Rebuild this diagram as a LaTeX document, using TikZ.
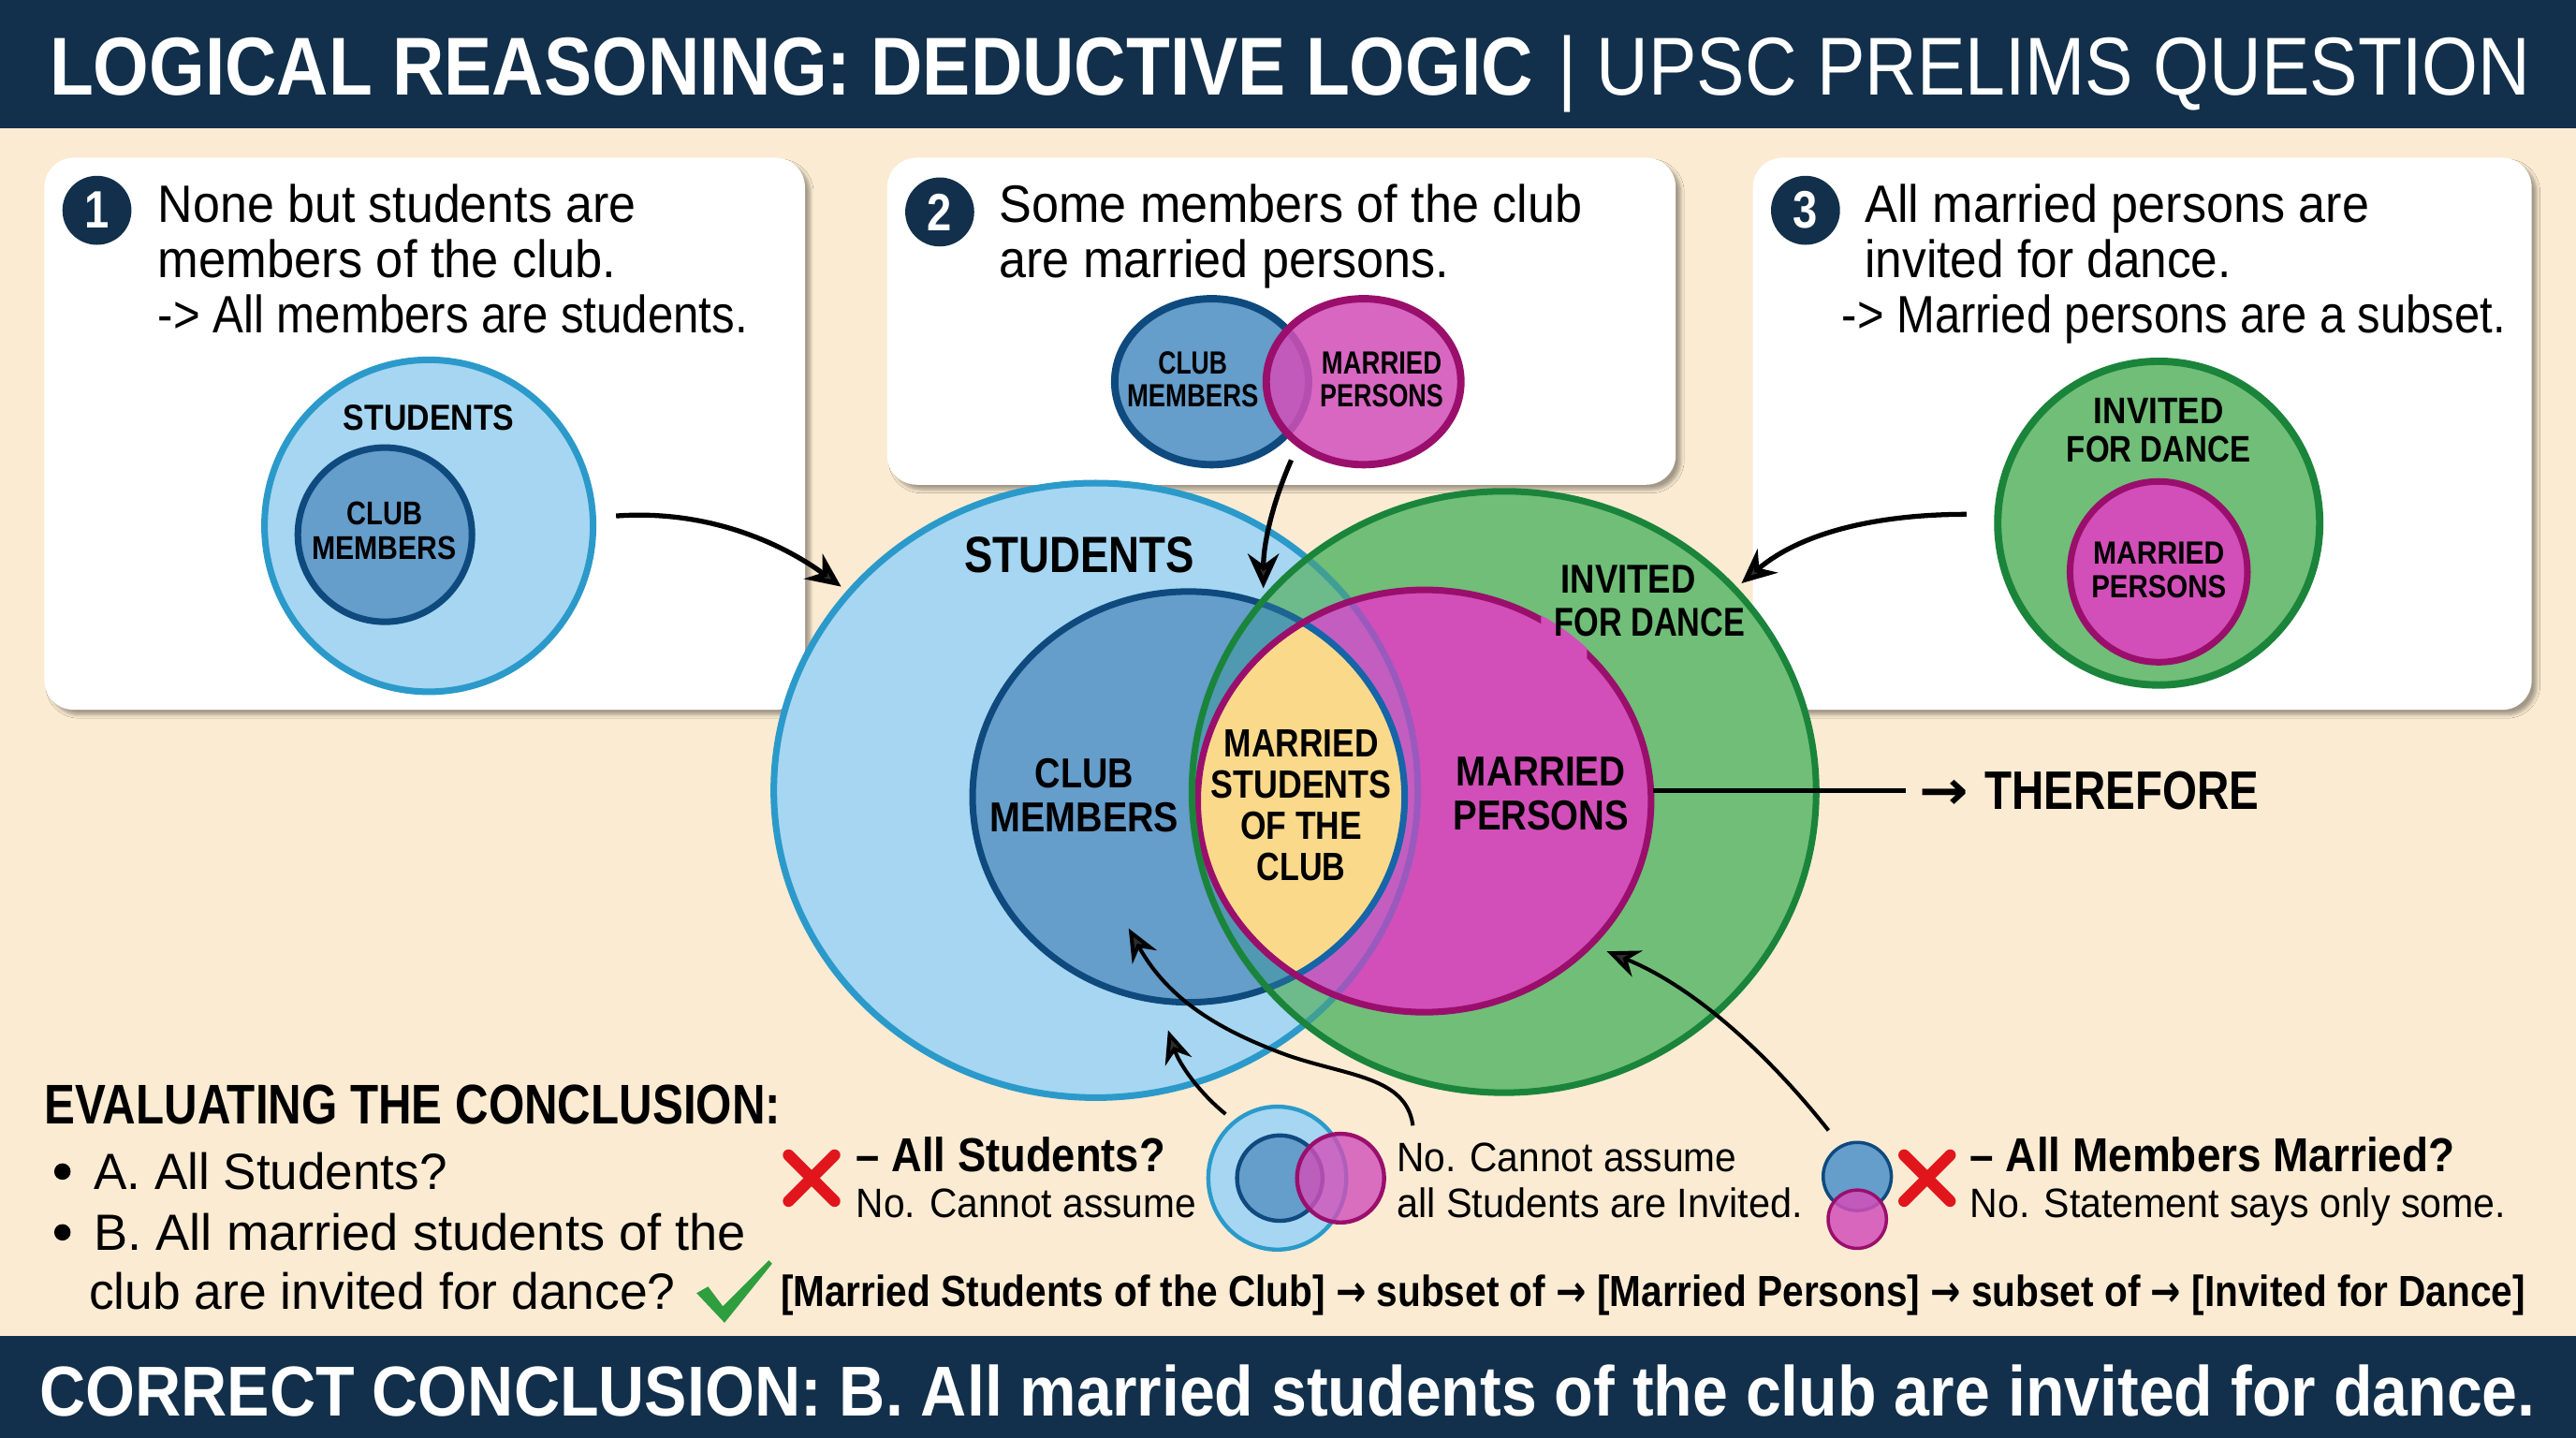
\documentclass[tikz,border=0pt]{standalone}
\usepackage{graphicx}
\usepackage{fontspec}
\setmainfont{Liberation Sans}[FakeStretch=0.84]
\newfontfamily\arrowfont{DejaVu Sans}[FakeStretch=0.8]
\usetikzlibrary{arrows.meta,shapes.geometric,shadows.blur}
\definecolor{navy}{HTML}{12304B}
\definecolor{cream}{HTML}{FBEBD2}
\definecolor{skyfill}{HTML}{A6D6F1}
\definecolor{skyline}{HTML}{2B9ACA}
\definecolor{clubfill}{HTML}{659DCB}
\definecolor{clubline}{HTML}{0F4A7E}
\definecolor{greenfill}{HTML}{70BE78}
\definecolor{greenline}{HTML}{1B843B}
\definecolor{pinkfill}{HTML}{D24FB9}
\definecolor{pinkline}{HTML}{9A0F6C}
\definecolor{goldfill}{HTML}{FBD98B}
\definecolor{crossred}{HTML}{E1161C}
\definecolor{tickgreen}{HTML}{2F9E3F}
% colours where the main circles cross
\definecolor{skygreen}{HTML}{6DBA8A}
\definecolor{clubgreen}{HTML}{4F9AB0}
\definecolor{skypink}{HTML}{C35EC0}
\definecolor{skyteal}{HTML}{3F9E95}
\definecolor{clubteal}{HTML}{1D6592}
\definecolor{skypurple}{HTML}{9A5ABD}
\definecolor{clubblue}{HTML}{1565A8}
\tikzset{
    cardbox/.style={fill=white, rounded corners=18pt, blur shadow={shadow xshift=3pt, shadow yshift=-3pt, shadow blur steps=6, shadow opacity=35}},
    badge/.style={circle, fill=navy, text=white, minimum size=42pt, inner sep=0pt, font=\fontsize{32}{32}\selectfont\bfseries},
    cardtext/.style={anchor=north west, inner sep=0pt, align=left, font=\fontsize{32}{33.5}\selectfont},
    disc/.style 2 args={ellipse, inner sep=0pt, minimum width=#1, minimum height=#2},
    skydisc/.style 2 args={disc={#1}{#2}, fill=skyfill, draw=skyline, line width=4pt},
    clubdisc/.style 2 args={disc={#1}{#2}, fill=clubfill, draw=clubline, line width=4pt},
    greendisc/.style 2 args={disc={#1}{#2}, fill=greenfill, draw=greenline, line width=4.5pt},
    pinkdisc/.style 2 args={disc={#1}{#2}, fill=pinkfill, draw=pinkline, line width=4pt},
    vennlabel/.style 2 args={align=center, inner sep=0pt, text=black, font=\fontsize{#1}{#2}\selectfont\bfseries},
    linktext/.style={anchor=base west, inner sep=0pt, font=\fontsize{#1}{#1}\selectfont},
    flow/.style={line width=3pt, -{Stealth[length=21pt,width=19pt]}},
    flowthin/.style={line width=2.3pt, -{Stealth[length=20pt,width=17pt]}},
    crossmark/.style={crossred, line width=7pt, line cap=round},
}
% set a line to the width it has in the picture
\newcommand{\fitw}[2]{\resizebox{#1pt}{\height}{#2}}
\newcommand{\rarrow}{{\arrowfont →}}
\newcommand{\studentsPath}{(667,481) ellipse [x radius=196, y radius=187]}
\newcommand{\invitedPath}{(915.5,482) ellipse [x radius=190, y radius=183]}
\newcommand{\clubPath}{(723.5,485) ellipse [x radius=131.5, y radius=125]}
\newcommand{\marriedPath}{(867,487.5) ellipse [x radius=138, y radius=128.5]}
\begin{document}
\begin{tikzpicture}[x=1pt, y=-1pt]
    \useasboundingbox (0,0) rectangle (1568,875);
    \fill[cream] (0,0) rectangle (1568,875);

    % Header and footer bands
    \fill[navy] (0,0) rectangle (1568,78);
    \fill[navy] (0,813) rectangle (1568,875);
    \node[anchor=base west, inner sep=0pt, text=white, font=\fontsize{50}{50}\selectfont] (title) at (30,58) {\fitw{903}{\bfseries LOGICAL REASONING: DEDUCTIVE LOGIC}\hspace{15pt}\fitw{592}{| UPSC PRELIMS QUESTION}};
    \node[anchor=base west, inner sep=0pt, text=white, font=\fontsize{43}{43}\selectfont\bfseries] (verdict) at (24,862) {\fitw{1519}{CORRECT CONCLUSION: B. All married students of the club are invited for dance.}};

    % The three statement cards
    \fill[cardbox] (27,96) rectangle (490,432);
    \fill[cardbox] (540,96) rectangle (1020,295);
    \fill[cardbox] (1067,96) rectangle (1541,432);

    \node[badge] (one) at (59,128) {1};
    \node[badge] (two) at (572,129) {2};
    \node[badge] (three) at (1099,128) {3};

    \node[cardtext] (textOne) at (96,112) {\fitw{291}{None but students are}\\\fitw{279}{members of the club.}\\\fitw{359}{-> All members are students.}};
    \node[cardtext] (textTwo) at (608,112) {\fitw{355}{Some members of the club}\\\fitw{274}{are married persons.}};
    \node[cardtext] (textThree) at (1135,112) {\fitw{307}{All married persons are}\\\fitw{223}{invited for dance.}};
    \node[cardtext] (textThreeB) at (1121,179) {\fitw{404}{-> Married persons are a subset.}};

    % Card 1 picture
    \node[skydisc={200pt}{202pt}] (cardStudents) at (261,320) {};
    \node[clubdisc={106pt}{106pt}] (cardClub) at (234.3,325.4) {};
    \node[vennlabel={22}{22}] (cardStudentsText) at (261,254) {\fitw{104}{STUDENTS}};
    \node[vennlabel={20}{21}] (cardClubText) at (234,323) {\fitw{46}{CLUB}\\\fitw{88}{MEMBERS}};

    % Card 2 picture
    \node[clubdisc={118pt}{101pt}, line width=4.5pt] (pairClub) at (737.5,232.3) {};
    \node[pinkdisc={118.5pt}{101pt}, line width=4.5pt, fill opacity=0.86] (pairMarried) at (830,232.3) {};
    \node[vennlabel={19.5}{20}] (pairClubText) at (726,231) {\fitw{42}{CLUB}\\\fitw{80}{MEMBERS}};
    \node[vennlabel={19.5}{20}] (pairMarriedText) at (841,231) {\fitw{73}{MARRIED}\\\fitw{75}{PERSONS}};

    % Card 3 picture
    \node[greendisc={196pt}{197pt}] (cardInvited) at (1314,318.4) {};
    \node[pinkdisc={108pt}{110pt}] (cardMarried) at (1314,348) {};
    \node[vennlabel={22.5}{23.5}] (cardInvitedText) at (1314,262) {\fitw{79}{INVITED}\\\fitw{112}{FOR DANCE}};
    \node[vennlabel={19.5}{20.5}] (cardMarriedText) at (1314,347) {\fitw{80}{MARRIED}\\\fitw{82}{PERSONS}};

    % Main diagram, each layer cut to the ones under it
    \fill[skyfill] \studentsPath;
    \draw[skyline, line width=4pt] \studentsPath;
    \fill[clubfill] \clubPath;
    \draw[clubline, line width=4pt] \clubPath;
    \fill[greenfill] \invitedPath;
    \begin{scope}
        \clip \invitedPath;
        \fill[skygreen] \studentsPath;
        \fill[clubgreen] \clubPath;
        \draw[skyteal, line width=4pt] \studentsPath;
        \draw[clubteal, line width=4pt] \clubPath;
    \end{scope}
    \fill[pinkfill] \marriedPath;
    \begin{scope}
        \clip \marriedPath;
        \fill[skypink] \studentsPath;
        \draw[skypurple, line width=4pt] \studentsPath;
        \fill[goldfill] \clubPath;
        \draw[clubblue, line width=4pt] \clubPath;
    \end{scope}
    \draw[pinkline, line width=4pt] \marriedPath;
    \draw[greenline, line width=4pt] \invitedPath;
    % the outline stops under the label
    \begin{scope}
        \clip (938,372) rectangle (966,402);
        \draw[pinkfill, line width=5pt] \marriedPath;
    \end{scope}

    \node[vennlabel={31}{31}] (bigStudents) at (657,338) {\fitw{140}{STUDENTS}};
    \node[vennlabel={25.5}{27}] (bigClub) at (660,484) {\fitw{60}{CLUB}\\\fitw{115}{MEMBERS}};
    \node[vennlabel={24}{25}] (bigBoth) at (792,490) {\fitw{94}{MARRIED}\\\fitw{110}{STUDENTS}\\\fitw{74}{OF THE}\\\fitw{54}{CLUB}};
    \node[vennlabel={25.5}{27}] (bigMarried) at (938,483) {\fitw{103}{MARRIED}\\\fitw{107}{PERSONS}};
    \node[vennlabel={24.5}{26}, align=left, anchor=north west] (bigInvited) at (946,344) {\hspace{4pt}\fitw{82}{INVITED}\\\fitw{116}{FOR DANCE}};

    % Therefore
    \node[anchor=base west, inner sep=0pt, font=\fontsize{33}{33}\selectfont\bfseries] (therefore) at (1168,492.5) {\fitw{30}{\rarrow}\hspace{10pt}\fitw{167}{THEREFORE}};
    \coordinate (lineStart) at (1006,481);
    \coordinate (lineEnd) at (1160,481);
    \draw[line width=2.8pt] (lineStart) -- (lineEnd);

    % Bottom left list
    \node[anchor=base west, inner sep=0pt, font=\fontsize{34}{34}\selectfont\bfseries] (evalHead) at (27,684) {\fitw{448}{EVALUATING THE CONCLUSION:}};
    \fill (38,713) circle (5);
    \fill (38,750) circle (5);
    \node[linktext=31] (optA) at (57,724) {\fitw{215}{A. All Students?}};
    \node[linktext=31] (optB) at (57,761) {\fitw{397}{B. All married students of the}};
    \node[linktext=31] (optBb) at (54,797) {\fitw{357}{club are invited for dance?}};

    % Checks and crosses
    \fill[tickgreen] (424,787) -- (431,783) -- (440,795) -- (468,767) -- (470,769) -- (441,805) -- cycle;
    \foreach \cx in {494,1173} {
        \draw[crossmark] (\cx-14,703) -- (\cx+14,731);
        \draw[crossmark] (\cx+14,703) -- (\cx-14,731);
    }

    % Comments beside the crosses
    \node[linktext=29] (headA) at (521,713) {\fitw{188}{\bfseries – All Students?}};
    \node[linktext=25] (noA) at (521,741) {\fitw{207}{No. Cannot assume}};
    \node[linktext=25] (noB) at (850,713) {\fitw{207}{No. Cannot assume}};
    \node[linktext=25] (noBb) at (850,741) {\fitw{247}{all Students are Invited.}};
    \node[linktext=29] (headC) at (1199,713) {\fitw{295}{\bfseries – All Members Married?}};
    \node[linktext=25] (noC) at (1199,741) {\fitw{326}{No. Statement says only some.}};

    \node[linktext=26.5] (chain) at (475,795) {\fitw{1062}{\bfseries [Married Students of the Club] \rarrow{} subset of \rarrow{} [Married Persons] \rarrow{} subset of \rarrow{} [Invited for Dance]}};

    % Small pictures in the bottom row
    \node[skydisc={84pt}{87pt}, line width=2.5pt] (miniStudents) at (777.5,717) {};
    \node[clubdisc={52pt}{52pt}, line width=2.5pt] (miniClub) at (779,717) {};
    \node[pinkdisc={53pt}{54pt}, line width=2.5pt, fill opacity=0.8] (miniMarried) at (816,717) {};
    \node[clubdisc={41.5pt}{41.5pt}, line width=2pt] (miniClubB) at (1130.5,716) {};
    \node[pinkdisc={35.5pt}{35.5pt}, line width=2pt, fill opacity=0.85] (miniMarriedB) at (1130.5,742) {};

    % Arrows into the main diagram
    \coordinate (oneStart) at (375,314);
    \coordinate (oneEnd) at (512,357);
    \coordinate (twoStart) at (786,280);
    \coordinate (twoEnd) at (769,358);
    \coordinate (threeStart) at (1197,313);
    \coordinate (threeEnd) at (1060,355);
    \coordinate (aStart) at (746,678);
    \coordinate (aEnd) at (711,627);
    \coordinate (bStart) at (860,685);
    \coordinate (bMid) at (783,642);
    \coordinate (bEnd) at (687,565);
    \coordinate (cStart) at (1113,688);
    \coordinate (cEnd) at (978,579);
    \draw[flow] (oneStart) .. controls (430,310) and (475,330) .. (oneEnd);
    \draw[flow] (twoStart) .. controls (775,305) and (769,330) .. (twoEnd);
    \draw[flow] (threeStart) .. controls (1140,313) and (1095,325) .. (threeEnd);
    \draw[flowthin] (aStart) .. controls (730,665) and (718,648) .. (aEnd);
    \draw[flowthin] (bStart) .. controls (856,655) and (820,655) .. (bMid) .. controls (745,628) and (712,610) .. (bEnd);
    \draw[flowthin] (cStart) .. controls (1075,640) and (1030,600) .. (cEnd);
\end{tikzpicture}
\end{document}
